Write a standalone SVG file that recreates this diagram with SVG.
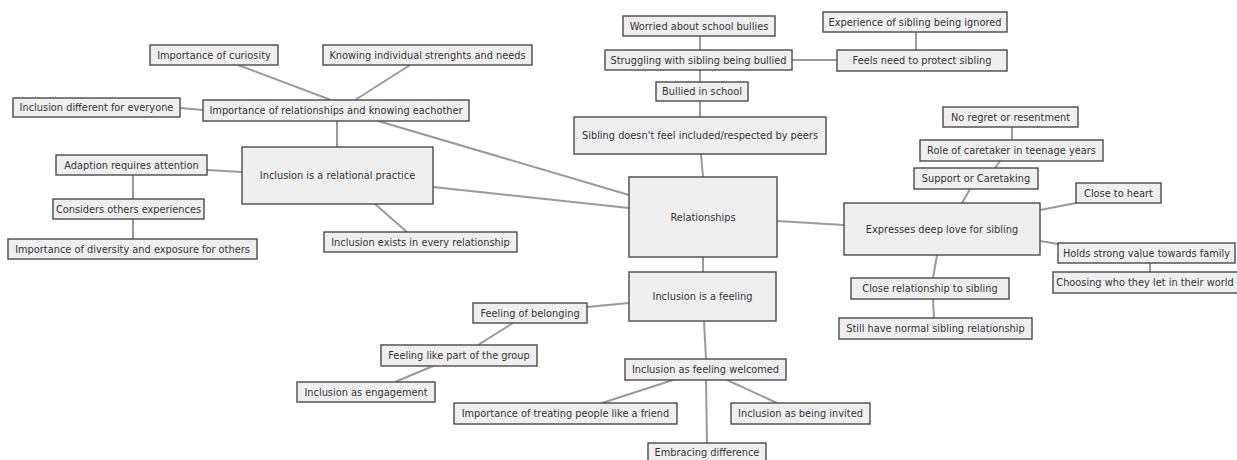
<svg xmlns="http://www.w3.org/2000/svg" width="1237" height="460" viewBox="0 0 1237 460">
<style>
.n rect{fill:#efefef;stroke:#4a4a4a;stroke-width:1.4}
.n text{font-family:"DejaVu Sans",Verdana,sans-serif;font-size:9.8px;fill:#333;text-anchor:middle;dominant-baseline:central}
#connectors line{stroke:#9a9a9a;stroke-width:2}
</style>
<rect width="1237" height="460" fill="#fff"/>
<g id="connectors">
<line x1="238" y1="65" x2="331" y2="100"/>
<line x1="410" y1="65" x2="355" y2="100"/>
<line x1="180" y1="108" x2="203" y2="110"/>
<line x1="337" y1="121" x2="337" y2="147"/>
<line x1="378" y1="121" x2="629" y2="195"/>
<line x1="433" y1="187" x2="629" y2="208"/>
<line x1="207" y1="170" x2="242" y2="172"/>
<line x1="133" y1="175" x2="133" y2="199"/>
<line x1="133" y1="219" x2="133" y2="239"/>
<line x1="375" y1="204" x2="407" y2="232"/>
<line x1="700" y1="36" x2="700" y2="50"/>
<line x1="792" y1="60" x2="837" y2="60"/>
<line x1="916" y1="32" x2="916" y2="50"/>
<line x1="700" y1="70" x2="700" y2="83"/>
<line x1="700" y1="101" x2="700" y2="117"/>
<line x1="701" y1="154" x2="703" y2="177"/>
<line x1="777" y1="221" x2="844" y2="225"/>
<line x1="1012" y1="127" x2="1012" y2="140"/>
<line x1="1000" y1="161" x2="995" y2="168"/>
<line x1="970" y1="189" x2="962" y2="203"/>
<line x1="1040" y1="210" x2="1076" y2="203"/>
<line x1="1040" y1="241" x2="1058" y2="244"/>
<line x1="1150" y1="263" x2="1150" y2="272"/>
<line x1="937" y1="255" x2="933" y2="278"/>
<line x1="933" y1="299" x2="934" y2="318"/>
<line x1="703" y1="257" x2="703" y2="272"/>
<line x1="629" y1="303" x2="587" y2="307"/>
<line x1="513" y1="323" x2="478" y2="345"/>
<line x1="433" y1="366" x2="395" y2="382"/>
<line x1="704" y1="321" x2="706" y2="359"/>
<line x1="673" y1="380" x2="602" y2="403"/>
<line x1="727" y1="380" x2="777" y2="403"/>
<line x1="706" y1="380" x2="707" y2="443"/>
</g>
<g id="curiosity" class="n"><rect x="150" y="45" width="128" height="20"/><text x="214" y="55">Importance of curiosity</text></g>
<g id="knowing" class="n"><rect x="323" y="45" width="209" height="20"/><text x="427.5" y="55">Knowing individual strenghts and needs</text></g>
<g id="different" class="n"><rect x="13" y="98" width="167" height="19"/><text x="96.5" y="107.5">Inclusion different for everyone</text></g>
<g id="impRel" class="n"><rect x="203" y="100" width="266" height="21"/><text x="336" y="110.5">Importance of relationships and knowing eachother</text></g>
<g id="relPractice" class="n"><rect x="242" y="147" width="191" height="57"/><text x="337.5" y="175.5">Inclusion is a relational practice</text></g>
<g id="adaption" class="n"><rect x="56" y="155" width="151" height="20"/><text x="131.5" y="165">Adaption requires attention</text></g>
<g id="considers" class="n"><rect x="53" y="199" width="151" height="20"/><text x="128.5" y="209">Considers others experiences</text></g>
<g id="diversity" class="n"><rect x="8" y="239" width="249" height="20"/><text x="132.5" y="249">Importance of diversity and exposure for others</text></g>
<g id="exists" class="n"><rect x="324" y="232" width="193" height="20"/><text x="420.5" y="242">Inclusion exists in every relationship</text></g>
<g id="worried" class="n"><rect x="623" y="16" width="152" height="20"/><text x="699" y="26">Worried about school bullies</text></g>
<g id="struggling" class="n"><rect x="605" y="50" width="187" height="20"/><text x="698.5" y="60">Struggling with sibling being bullied</text></g>
<g id="experience" class="n"><rect x="823" y="12" width="184" height="20"/><text x="915" y="22">Experience of sibling being ignored</text></g>
<g id="feels" class="n"><rect x="837" y="50" width="170" height="21"/><text x="922" y="60.5">Feels need to protect sibling</text></g>
<g id="bullied" class="n"><rect x="656" y="82" width="92" height="19"/><text x="702" y="91.5">Bullied in school</text></g>
<g id="sibling" class="n"><rect x="574" y="117" width="252" height="37"/><text x="700" y="135.5">Sibling doesn't feel included/respected by peers</text></g>
<g id="relationships" class="n"><rect x="629" y="177" width="148" height="80"/><text x="703" y="217">Relationships</text></g>
<g id="expresses" class="n"><rect x="844" y="203" width="196" height="52"/><text x="942" y="229">Expresses deep love for sibling</text></g>
<g id="noRegret" class="n"><rect x="943" y="107" width="135" height="20"/><text x="1010.5" y="117">No regret or resentment</text></g>
<g id="role" class="n"><rect x="920" y="140" width="183" height="21"/><text x="1011.5" y="150.5">Role of caretaker in teenage years</text></g>
<g id="support" class="n"><rect x="914" y="168" width="124" height="21"/><text x="976" y="178.5">Support or Caretaking</text></g>
<g id="closeHeart" class="n"><rect x="1076" y="183" width="85" height="20"/><text x="1118.5" y="193">Close to heart</text></g>
<g id="holds" class="n"><rect x="1058" y="243" width="177" height="20"/><text x="1146.5" y="253">Holds strong value towards family</text></g>
<g id="choosing" class="n"><rect x="1053" y="272" width="190" height="21"/><text x="1145" y="282.5">Choosing who they let in their world</text></g>
<g id="closeRel" class="n"><rect x="851" y="278" width="158" height="21"/><text x="930" y="288.5">Close relationship to sibling</text></g>
<g id="stillNormal" class="n"><rect x="839" y="318" width="193" height="21"/><text x="935.5" y="328.5">Still have normal sibling relationship</text></g>
<g id="feeling" class="n"><rect x="629" y="272" width="147" height="49"/><text x="702.5" y="296.5">Inclusion is a feeling</text></g>
<g id="belonging" class="n"><rect x="473" y="303" width="114" height="20"/><text x="530" y="313">Feeling of belonging</text></g>
<g id="feelingLike" class="n"><rect x="381" y="345" width="156" height="21"/><text x="459" y="355.5">Feeling like part of the group</text></g>
<g id="engagement" class="n"><rect x="297" y="382" width="138" height="20"/><text x="366" y="392">Inclusion as engagement</text></g>
<g id="welcomed" class="n"><rect x="625" y="359" width="161" height="21"/><text x="705.5" y="369.5">Inclusion as feeling welcomed</text></g>
<g id="treating" class="n"><rect x="454" y="403" width="223" height="21"/><text x="565.5" y="413.5">Importance of treating people like a friend</text></g>
<g id="invited" class="n"><rect x="731" y="403" width="139" height="21"/><text x="800.5" y="413.5">Inclusion as being invited</text></g>
<g id="embracing" class="n"><rect x="648" y="443" width="118" height="20"/><text x="707" y="452.5">Embracing difference</text></g>
</svg>
